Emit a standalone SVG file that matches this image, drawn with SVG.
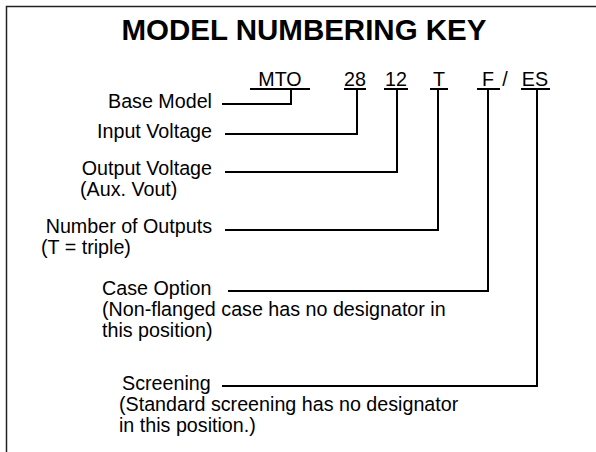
<svg xmlns="http://www.w3.org/2000/svg" width="596" height="452" viewBox="0 0 596 452">
<style>
text{font-family:"Liberation Sans",Arial,sans-serif;fill:#000}
.t{font-size:29.5px;font-weight:bold}
.b{font-size:19.7px}
.ln{fill:none;stroke:#000;stroke-width:2}
</style>
<rect x="0" y="0" width="596" height="452" fill="#fff"/>
<path d="M6.5,460 V6.5 H600" fill="none" stroke="#222" stroke-width="1.5"/>
<g id="title"><text class="t" x="304" y="40" text-anchor="middle">MODEL NUMBERING KEY</text></g>
<g id="code">
<text class="b" x="280" y="86" text-anchor="middle">MTO</text>
<text class="b" x="355" y="86" text-anchor="middle">28</text>
<text class="b" x="396" y="86" text-anchor="middle">12</text>
<text class="b" x="439" y="86" text-anchor="middle">T</text>
<text class="b" x="488" y="86" text-anchor="middle">F</text>
<text class="b" x="505" y="86" text-anchor="middle">/</text>
<text class="b" x="535" y="86" text-anchor="middle">ES</text>
</g>
<g id="base"><text class="b" x="212" y="108" text-anchor="end">Base Model</text></g>
<g id="input"><text class="b" x="212" y="138" text-anchor="end">Input Voltage</text></g>
<g id="output"><text class="b" x="212" y="175" text-anchor="end">Output Voltage</text><text class="b" x="80" y="196">(Aux. Vout)</text></g>
<g id="number"><text class="b" x="212" y="233" text-anchor="end">Number of Outputs</text><text class="b" x="41" y="254">(T = triple)</text></g>
<g id="case"><text class="b" x="102" y="295">Case Option</text><text class="b" x="102" y="316">(Non-flanged case has no designator in</text><text class="b" x="102" y="337">this position)</text></g>
<g id="screening"><text class="b" x="122" y="390">Screening</text><text class="b" x="119" y="411">(Standard screening has no designator</text><text class="b" x="119" y="432">in this position.)</text></g>
<g id="connectors">
<path class="ln" d="M250,89 H310 M291,89 V104 H222"/>
<path class="ln" d="M344,89 H366 M357,89 V134 H225"/>
<path class="ln" d="M384,89 H408 M397,89 V172 H225"/>
<path class="ln" d="M430,89 H448 M438,89 V230 H225"/>
<path class="ln" d="M477,89 H500 M488,89 V291 H228"/>
<path class="ln" d="M521,89 H550 M537,89 V386 H222"/>
</g>
</svg>
